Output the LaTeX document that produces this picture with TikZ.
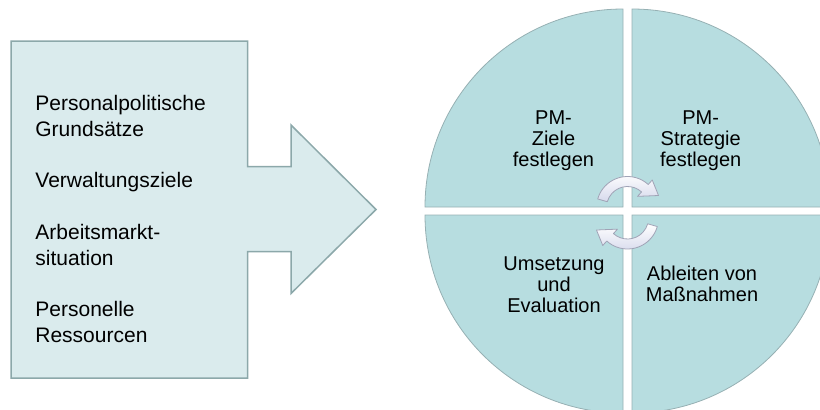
\documentclass[tikz,border=0pt]{standalone}
\usepackage{fontspec}
\setmainfont{Liberation Sans}
\usepackage{xcolor}
\usepackage{tikz}
\definecolor{boxfill}{RGB}{218,235,237}
\definecolor{boxline}{RGB}{140,168,170}
\definecolor{quadfill}{RGB}{183,221,224}
\definecolor{quadline}{RGB}{150,176,179}
\definecolor{cyclefill}{RGB}{214,217,236}
\definecolor{cycleline}{RGB}{160,163,182}

\begin{document}
\begin{tikzpicture}[x=0.5pt,y=0.5pt,
		quad/.style={draw=quadline,fill=quadfill,line width=0.4pt},
		cyclearrow/.style={draw=cycleline,top color=white,bottom color=cyclefill,line width=0.4pt,line join=round},
		intext/.style={anchor=base west,inner sep=0pt,align=left,font=\fontsize{10.5}{13}\selectfont},
		quadtext/.style={inner sep=0pt,align=center,font=\fontsize{10}{10.5}\selectfont}]
			\useasboundingbox (0,0) rectangle (820,409);
			\clip (0,0) rectangle (820,409);
			
			% input arrow
			\coordinate (b1) at (11,368);
			\coordinate (b2) at (247.5,368);
			\coordinate (b3) at (247.5,242.5);
			\coordinate (b4) at (291,242.5);
			\coordinate (b5) at (291,284);
			\coordinate (b6) at (376,199.5);
			\coordinate (b7) at (291,115.5);
			\coordinate (b8) at (291,157.5);
			\coordinate (b9) at (247.5,157.5);
			\coordinate (b10) at (247.5,31);
			\coordinate (b11) at (11,31);
			\draw[draw=boxline,fill=boxfill,line width=0.75pt] (b1) -- (b2) -- (b3) -- (b4) -- (b5) -- (b6) -- (b7) -- (b8) -- (b9) -- (b10) -- (b11) -- cycle;
			
			% base = last line
			\node (grund) at (35,273) [intext] {Personalpolitische\\Grunds\"atze};
			\node (verw) at (35,222) [intext] {Verwaltungsziele};
			\node (markt) at (35,144) [intext] {Arbeitsmarkt-\\situation};
			\node (ress) at (35,67) [intext] {Personelle\\Ressourcen};
			
			% quadrants
			\coordinate (q1) at (623,202);
			\coordinate (q2) at (632,202);
			\coordinate (q3) at (623,194);
			\coordinate (q4) at (632,194);
			\draw[quad] (q1) -- ++(-198,0) arc[start angle=180,end angle=90,radius=198] -- cycle;
			\draw[quad] (q2) -- ++(0,198) arc[start angle=90,end angle=0,radius=198] -- cycle;
			\draw[quad] (q3) -- ++(0,-198) arc[start angle=270,end angle=180,radius=198] -- cycle;
			\draw[quad] (q4) -- ++(198,0) arc[start angle=0,end angle=-90,radius=198] -- cycle;
			
			\node (ziele) at (553.5,268.5) [quadtext] {PM-\\Ziele\\festlegen};
			\node (strat) at (700.7,268.5) [quadtext] {PM-\\Strategie\\festlegen};
			\node (umset) at (554,124) [quadtext] {Umsetzung\\und\\Evaluation};
			\node (mass) at (702,125) [quadtext] {Ableiten von\\Ma\ss nahmen};
			
			% cycle arrows
			\begin{scope}[shift={(627.5,201.5)}]
				\draw[cyclearrow] (164:31) arc[start angle=164,end angle=48,radius=31] -- (48:37) -- (31,12) -- (48:15) -- (48:21) arc[start angle=48,end angle=164,radius=21] -- cycle;
			\end{scope}
			\begin{scope}[shift={(627.5,191)},rotate=180]
				\draw[cyclearrow] (164:31) arc[start angle=164,end angle=48,radius=31] -- (48:37) -- (31,12) -- (48:15) -- (48:21) arc[start angle=48,end angle=164,radius=21] -- cycle;
			\end{scope}
		\end{tikzpicture}
\end{document}
